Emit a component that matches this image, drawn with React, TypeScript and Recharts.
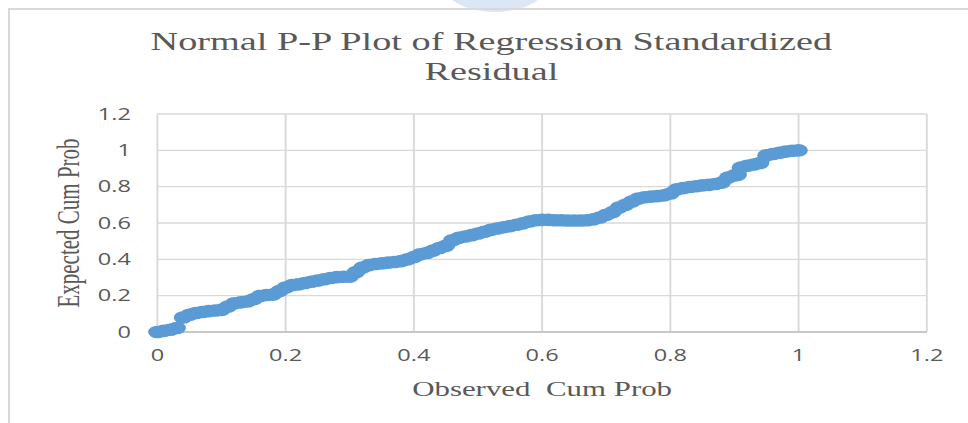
import React from "react";
import { ScatterChart, Scatter, XAxis, YAxis, CartesianGrid } from "recharts";

// the reference image is stretched horizontally, so the chart is drawn narrow and scaled
const BASE_WIDTH = 658;
const STRETCH = 968 / BASE_WIDTH;

const TITLE_LINES = ["Normal P-P Plot of Regression Standardized", "Residual"];
const X_TITLE = "Observed\u00A0 Cum Prob";
const Y_TITLE = "Expected Cum Prob";
const AXIS_TICKS = [0, 0.2, 0.4, 0.6, 0.8, 1, 1.2];

const OBSERVED = [
  0, 0.01, 0.02, 0.03, 0.04, 0.05, 0.06, 0.07, 0.08, 0.09,
  0.1, 0.11, 0.12, 0.13, 0.14, 0.15, 0.16, 0.17, 0.18, 0.19,
  0.2, 0.21, 0.22, 0.23, 0.24, 0.25, 0.26, 0.27, 0.28, 0.29,
  0.3, 0.31, 0.32, 0.33, 0.34, 0.35, 0.36, 0.37, 0.38, 0.39,
  0.4, 0.41, 0.42, 0.43, 0.44, 0.45, 0.46, 0.47, 0.48, 0.49,
  0.5, 0.51, 0.52, 0.53, 0.54, 0.55, 0.56, 0.57, 0.58, 0.59,
  0.6, 0.61, 0.62, 0.63, 0.64, 0.65, 0.66, 0.67, 0.68, 0.69,
  0.7, 0.71, 0.72, 0.73, 0.74, 0.75, 0.76, 0.77, 0.78, 0.79,
  0.8, 0.81, 0.82, 0.83, 0.84, 0.85, 0.86, 0.87, 0.88, 0.89,
  0.9, 0.905, 0.91, 0.92, 0.93, 0.94, 0.95, 0.96, 0.97, 0.98,
  0.99, 1,
];

const EXPECTED = [
  0, 0.006, 0.012, 0.022, 0.08, 0.095, 0.105, 0.11, 0.115, 0.118,
  0.122, 0.14, 0.158, 0.163, 0.168, 0.18, 0.198, 0.204, 0.206, 0.225,
  0.245, 0.258, 0.262, 0.27, 0.277, 0.283, 0.29, 0.297, 0.302, 0.304,
  0.305, 0.33, 0.355, 0.368, 0.374, 0.378, 0.382, 0.385, 0.39, 0.4,
  0.412, 0.428, 0.435, 0.448, 0.462, 0.475, 0.505, 0.518, 0.526, 0.533,
  0.542, 0.552, 0.562, 0.57, 0.577, 0.583, 0.59, 0.598, 0.608, 0.615,
  0.617, 0.617, 0.615, 0.615, 0.614, 0.614, 0.614, 0.615, 0.62, 0.63,
  0.645, 0.66, 0.685, 0.7, 0.718, 0.735, 0.742, 0.745, 0.748, 0.752,
  0.762, 0.785, 0.792, 0.798, 0.802, 0.807, 0.81, 0.815, 0.822, 0.85,
  0.862, 0.865, 0.905, 0.915, 0.922, 0.93, 0.972, 0.98, 0.987, 0.993,
  0.998, 1,
];

const points = OBSERVED.map((x, i) => ({ x, y: EXPECTED[i] }));

const MARKER_COLOR = "#5B9BD5";
const TEXT_COLOR = "#595959";
const GRID_COLOR = "#d9d9d9";
const SERIF = '"Liberation Serif", "Times New Roman", serif';

function Marker(props: any) {
  const { cx, cy } = props;
  if (cx == null || cy == null) return null;
  return <circle cx={cx} cy={cy} r={6.3} fill={MARKER_COLOR} />;
}

export default function App() {
  return (
    <div
      style={{
        position: "absolute",
        left: 0,
        top: 0,
        width: 968,
        height: 423,
        overflow: "hidden",
        background: "#fff",
      }}
    >
      {/* faint watermark at the top edge */}
      <div
        style={{
          position: "absolute",
          left: 440,
          top: -52,
          width: 110,
          height: 64,
          borderRadius: "50%",
          background: "#dbe7f4",
        }}
      />
      <div
        style={{
          position: "absolute",
          left: 8,
          top: 8,
          right: 0,
          bottom: 0,
          borderTop: `2px solid ${GRID_COLOR}`,
          borderLeft: `2px solid ${GRID_COLOR}`,
        }}
      />
      <div
        style={{
          position: "absolute",
          left: 0,
          top: 0,
          width: BASE_WIDTH,
          height: 423,
          transform: `scaleX(${STRETCH})`,
          transformOrigin: "0 0",
        }}
      >
        <div
          style={{
            position: "absolute",
            left: 10,
            top: 27,
            width: 648,
            textAlign: "center",
            fontFamily: SERIF,
            fontSize: 26,
            lineHeight: "30px",
            color: TEXT_COLOR,
          }}
        >
          {TITLE_LINES.map((line) => (
            <div key={line}>{line}</div>
          ))}
        </div>
        <ScatterChart
          width={BASE_WIDTH}
          height={423}
          margin={{ top: 114, right: 28, bottom: 21, left: 0 }}
        >
          <CartesianGrid stroke={GRID_COLOR} strokeWidth={1.3} />
          <XAxis
            type="number"
            dataKey="x"
            domain={[0, 1.2]}
            ticks={AXIS_TICKS}
            interval={0}
            tickLine={false}
            axisLine={{ stroke: "#bfbfbf", strokeWidth: 1.5 }}
            tick={{ fill: TEXT_COLOR, fontSize: 16, fontFamily: "Open Sans" }}
            tickMargin={12}
            height={70}
            label={{
              value: X_TITLE,
              position: "insideBottom",
              offset: 6,
              fill: TEXT_COLOR,
              fontSize: 21,
              fontFamily: SERIF,
            }}
          />
          <YAxis
            type="number"
            dataKey="y"
            domain={[0, 1.2]}
            ticks={AXIS_TICKS}
            interval={0}
            tickLine={false}
            axisLine={false}
            tick={{ fill: TEXT_COLOR, fontSize: 16, fontFamily: "Open Sans" }}
            tickMargin={12}
            width={107}
            label={{
              value: Y_TITLE,
              angle: -90,
              position: "insideLeft",
              offset: 46,
              fill: TEXT_COLOR,
              fontSize: 21,
              fontFamily: SERIF,
              style: { textAnchor: "middle" },
            }}
          />
          <Scatter
            data={points}
            fill={MARKER_COLOR}
            shape={Marker}
            isAnimationActive={false}
          />
        </ScatterChart>
      </div>
    </div>
  );
}
